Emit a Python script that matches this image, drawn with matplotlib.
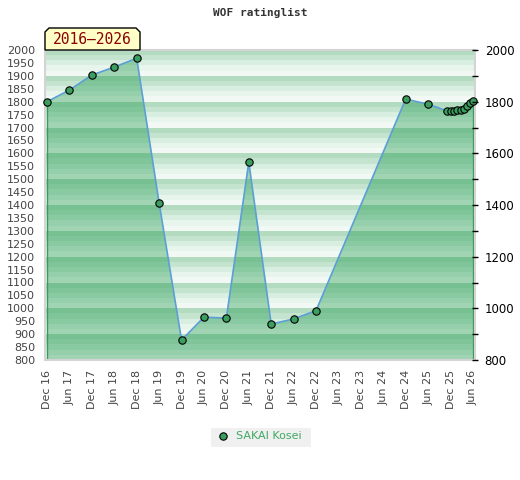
import matplotlib
matplotlib.use("Agg")
import matplotlib.pyplot as plt
import numpy as np
from matplotlib.patches import Polygon
from matplotlib.ticker import MultipleLocator

# months since Dec 2016
months = [0, 6, 12, 18, 24, 30, 36, 42, 48, 54, 60, 66, 72, 96, 102,
          107, 108, 108.9, 109.8, 110.7, 111.6, 112.3, 113.2, 114]
ratings = [1800, 1845, 1903, 1934, 1968, 1408, 877, 966, 962, 1566, 939, 959, 991,
           1810, 1790, 1765, 1765, 1765, 1766, 1768, 1773, 1783, 1795, 1802]

tick_labels = ["Dec 16", "Jun 17", "Dec 17", "Jun 18", "Dec 18", "Jun 19", "Dec 19",
               "Jun 20", "Dec 20", "Jun 21", "Dec 21", "Jun 22", "Dec 22", "Jun 23",
               "Dec 23", "Jun 24", "Dec 24", "Jun 25", "Dec 25", "Jun 26"]
player = "SAKAI Kosei"
period = "2016\u20132026"

light_cols = ["#b2dbc0", "#c4e4cf", "#d8eee1", "#e8f5ec", "#f2f9f4"]
dark_cols = ["#77c092", "#80c59a", "#8acaa3", "#95cfab", "#a0d4b3"]

fig = plt.figure(figsize=(5.2, 4.8), dpi=100)
ax = fig.add_axes([45 / 520, 1 - 360 / 480, 430 / 520, 310 / 480])
ax.set_xlim(-0.55, 114.55)
ax.set_ylim(800, 2000)

# filled area under the rating line, used as clip for darker bands
fill = ax.fill_between(months, ratings, 800, facecolor="none", edgecolor="none")
clip = fill.get_paths()[0]

for base in range(800, 2000, 100):
    for i in range(5):
        hi = base + 100 - i * 20
        lo = hi - 20
        ax.axhspan(lo, hi, color=light_cols[i], lw=0, zorder=0)
        r = ax.axhspan(lo, hi, color=dark_cols[i], lw=0, zorder=1)
        r.set_clip_path(clip, ax.transData)

ax.plot([months[0], months[0]], [800, ratings[0]], color="#3a9a5c", lw=1, zorder=2)
ax.plot([months[-1], months[-1]], [800, ratings[-1]], color="#3a9a5c", lw=1, zorder=2)
ax.plot(months, ratings, color="#5b9fd6", lw=1.2, zorder=3)
ax.plot(months, ratings, ls="none", marker="o", ms=5.3, mfc="#3a9f5e", mec="black",
        mew=0.8, zorder=4, clip_on=False)

for s in ax.spines.values():
    s.set_color("#d4d4d4")
    s.set_linewidth(1.5)

ax.set_yticks(np.arange(800, 2001, 50))
ax.tick_params(axis="y", length=0, pad=7, labelsize=8, labelcolor="#444444")
ax.set_xticks(np.arange(0, 115, 6))
ax.set_xticklabels(tick_labels, rotation=90)
ax.tick_params(axis="x", length=0, pad=7, labelsize=8, labelcolor="#444444")

ax2 = ax.twinx()
ax2.set_ylim(800, 2000)
ax2.set_yticks(np.arange(800, 2001, 200))
ax2.yaxis.set_minor_locator(MultipleLocator(100))
ax2.tick_params(axis="y", which="both", direction="inout", length=4, width=1,
                labelsize=8.5, labelcolor="black", pad=5)
for s in ax2.spines.values():
    s.set_visible(False)

fig.text(260 / 520, 1 - 13 / 480, "WOF ratinglist", ha="center", va="center",
         family="DejaVu Sans Mono", weight="bold", fontsize=8, color="#333333")

# period label box with clipped top corners
px0, px1, py0, py1, c = 45, 140, 50, 28, 4
pts = [(px0, py0), (px0, py1 + c), (px0 + c, py1), (px1 - c, py1), (px1, py1 + c), (px1, py0)]
box = Polygon([(x / 520, 1 - y / 480) for x, y in pts], closed=True,
              transform=fig.transFigure, facecolor="#ffffc6", edgecolor="black", lw=1,
              zorder=5)
fig.add_artist(box)
fig.text(92.5 / 520, 1 - 40 / 480, period, ha="center", va="center", fontsize=10.5,
         family="DejaVu Sans Mono", color="#8b0000", zorder=6)

# legend
leg = plt.Rectangle((211 / 520, 1 - 447 / 480), 100 / 520, 19 / 480,
                    transform=fig.transFigure, facecolor="#f0f0f0", edgecolor="none")
fig.add_artist(leg)
fig.add_artist(plt.Line2D([222.7 / 520], [1 - 436 / 480], transform=fig.transFigure,
                          marker="o", ms=5.3, mfc="#3a9f5e", mec="black", mew=0.8))
fig.text(236 / 520, 1 - 436 / 480, player, ha="left", va="center", fontsize=8,
         color="#3fa862")

fig.savefig("out.png", dpi=100)
